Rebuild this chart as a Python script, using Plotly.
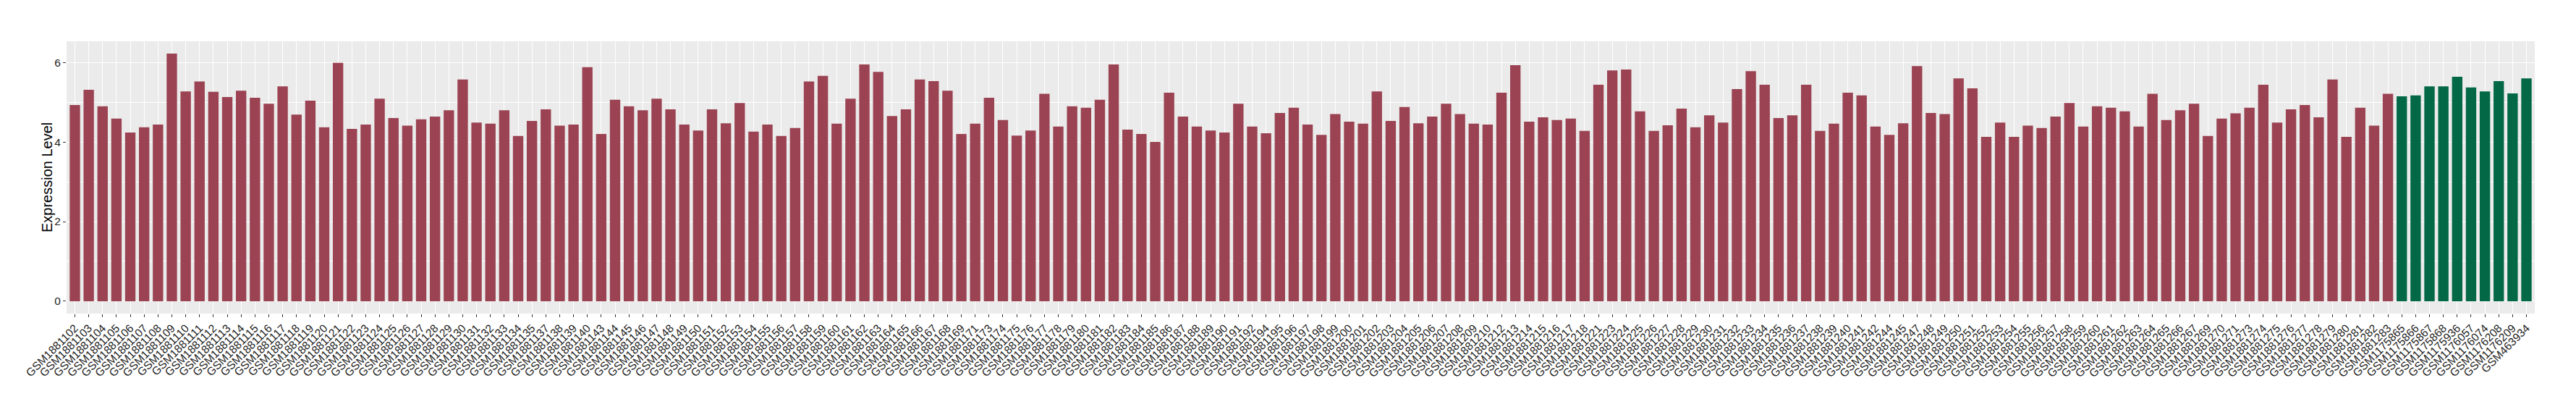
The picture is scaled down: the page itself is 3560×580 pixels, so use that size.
import plotly.graph_objects as go

# ---- data ----
tumor_samples = [
    "GSM1881102", "GSM1881103", "GSM1881104", "GSM1881105", "GSM1881106", "GSM1881107", "GSM1881108",
    "GSM1881109", "GSM1881110", "GSM1881111", "GSM1881112", "GSM1881113", "GSM1881114", "GSM1881115",
    "GSM1881116", "GSM1881117", "GSM1881118", "GSM1881119", "GSM1881120", "GSM1881121", "GSM1881122",
    "GSM1881123", "GSM1881124", "GSM1881125", "GSM1881126", "GSM1881127", "GSM1881128", "GSM1881129",
    "GSM1881130", "GSM1881131", "GSM1881132", "GSM1881133", "GSM1881134", "GSM1881135", "GSM1881137",
    "GSM1881138", "GSM1881139", "GSM1881140", "GSM1881143", "GSM1881144", "GSM1881145", "GSM1881146",
    "GSM1881147", "GSM1881148", "GSM1881149", "GSM1881150", "GSM1881151", "GSM1881152", "GSM1881153",
    "GSM1881154", "GSM1881155", "GSM1881156", "GSM1881157", "GSM1881158", "GSM1881159", "GSM1881160",
    "GSM1881161", "GSM1881162", "GSM1881163", "GSM1881164", "GSM1881165", "GSM1881166", "GSM1881167",
    "GSM1881168", "GSM1881169", "GSM1881171", "GSM1881173", "GSM1881174", "GSM1881175", "GSM1881176",
    "GSM1881177", "GSM1881178", "GSM1881179", "GSM1881180", "GSM1881181", "GSM1881182", "GSM1881183",
    "GSM1881184", "GSM1881185", "GSM1881186", "GSM1881187", "GSM1881188", "GSM1881189", "GSM1881190",
    "GSM1881191", "GSM1881192", "GSM1881194", "GSM1881195", "GSM1881196", "GSM1881197", "GSM1881198",
    "GSM1881199", "GSM1881200", "GSM1881201", "GSM1881202", "GSM1881203", "GSM1881204", "GSM1881205",
    "GSM1881206", "GSM1881207", "GSM1881208", "GSM1881209", "GSM1881210", "GSM1881212", "GSM1881213",
    "GSM1881214", "GSM1881215", "GSM1881216", "GSM1881217", "GSM1881218", "GSM1881221", "GSM1881223",
    "GSM1881224", "GSM1881225", "GSM1881226", "GSM1881227", "GSM1881228", "GSM1881229", "GSM1881230",
    "GSM1881231", "GSM1881232", "GSM1881233", "GSM1881234", "GSM1881235", "GSM1881236", "GSM1881237",
    "GSM1881238", "GSM1881239", "GSM1881240", "GSM1881241", "GSM1881242", "GSM1881244", "GSM1881245",
    "GSM1881247", "GSM1881248", "GSM1881249", "GSM1881250", "GSM1881251", "GSM1881252", "GSM1881253",
    "GSM1881254", "GSM1881255", "GSM1881256", "GSM1881257", "GSM1881258", "GSM1881259", "GSM1881260",
    "GSM1881261", "GSM1881262", "GSM1881263", "GSM1881264", "GSM1881265", "GSM1881266", "GSM1881267",
    "GSM1881269", "GSM1881270", "GSM1881271", "GSM1881273", "GSM1881274", "GSM1881275", "GSM1881276",
    "GSM1881277", "GSM1881278", "GSM1881279", "GSM1881280", "GSM1881281", "GSM1881282", "GSM1881283",
]
tumor_values = [
    4.93, 5.31, 4.90, 4.59, 4.24, 4.37, 4.44,
    6.22, 5.27, 5.52, 5.26, 5.13, 5.29, 5.11,
    4.96, 5.40, 4.69, 5.04, 4.37, 5.99, 4.33,
    4.44, 5.09, 4.60, 4.41, 4.57, 4.64, 4.80,
    5.57, 4.49, 4.46, 4.80, 4.15, 4.53, 4.82,
    4.41, 4.44, 5.88, 4.20, 5.06, 4.90, 4.80,
    5.09, 4.82, 4.44, 4.29, 4.82, 4.47, 4.98,
    4.26, 4.44, 4.15, 4.35, 5.52, 5.66, 4.46,
    5.09, 5.95, 5.76, 4.65, 4.82, 5.57, 5.53,
    5.29, 4.20, 4.46, 5.11, 4.55, 4.16, 4.29,
    5.21, 4.39, 4.90, 4.86, 5.06, 5.95, 4.31,
    4.20, 4.00, 5.24, 4.64, 4.39, 4.29, 4.24,
    4.96, 4.39, 4.22, 4.73, 4.86, 4.44, 4.18,
    4.70, 4.51, 4.46, 5.27, 4.53, 4.88, 4.47,
    4.64, 4.96, 4.70, 4.46, 4.44, 5.24, 5.93,
    4.51, 4.62, 4.55, 4.59, 4.28, 5.44, 5.80,
    5.82, 4.77, 4.28, 4.42, 4.84, 4.37, 4.67,
    4.49, 5.33, 5.78, 5.44, 4.60, 4.67, 5.44,
    4.28, 4.46, 5.24, 5.17, 4.39, 4.18, 4.47,
    5.91, 4.73, 4.70, 5.60, 5.35, 4.13, 4.49,
    4.13, 4.41, 4.35, 4.64, 4.98, 4.39, 4.90,
    4.86, 4.77, 4.39, 5.21, 4.55, 4.80, 4.96,
    4.15, 4.59, 4.72, 4.86, 5.44, 4.49, 4.82,
    4.93, 4.62, 5.57, 4.13, 4.86, 4.41, 5.21,
]
normal_samples = [
    "GSM1175865", "GSM1175866", "GSM1175867", "GSM1175868", "GSM1175936",
    "GSM1176057", "GSM1176074", "GSM1176208", "GSM1176209", "GSM463934",
]
normal_values = [5.15, 5.17, 5.40, 5.40, 5.64, 5.37, 5.27, 5.53, 5.22, 5.60]

y_ticks = [0, 2, 4, 6]
y_title = "Expression Level"

assert len(tumor_samples) == len(tumor_values)
assert len(normal_samples) == len(normal_values)

# ---- styling ----
RED = "#9B4352"
GREEN = "#036846"
TEXT = "#1F1F1F"
FONT = "Liberation Sans, Arial, Helvetica, sans-serif"

all_samples = tumor_samples + normal_samples
n = len(all_samples)
ymax = max(tumor_values + normal_values)
pad = ymax * 0.05

# page body has an 8px default margin; size the figure so the page is 3560x580
W, H = 3544, 564
L, T = 84, 49
PW, PH = 3411, 376

fig = go.Figure()
fig.add_trace(go.Bar(x=tumor_samples, y=tumor_values, marker=dict(color=RED, line=dict(width=0)),
                     width=0.75, showlegend=False))
fig.add_trace(go.Bar(x=normal_samples, y=normal_values, marker=dict(color=GREEN, line=dict(width=0)),
                     width=0.75, showlegend=False))

fig.update_layout(
    width=W, height=H,
    margin=dict(l=L, r=W - L - PW, t=T, b=H - T - PH, pad=0, autoexpand=False),
    paper_bgcolor="white",
    plot_bgcolor="#EBEBEB",
    barmode="overlay",
    font=dict(family=FONT, color=TEXT),
    xaxis=dict(
        type="category",
        categoryorder="array", categoryarray=all_samples,
        range=[-0.6, n - 1 + 0.6],
        tickangle=-45,
        tickfont=dict(size=15.5, color=TEXT),
        ticks="outside", ticklen=4, tickwidth=1, tickcolor="#333333",
        showgrid=True, gridcolor="white", gridwidth=1.1,
        zeroline=False, showline=False, automargin=False,
        fixedrange=True,
    ),
    yaxis=dict(
        range=[-pad, ymax + pad],
        tickvals=y_ticks,
        tickfont=dict(size=15.5, color=TEXT),
        ticks="outside", ticklen=4, tickwidth=1, tickcolor="#333333",
        showgrid=True, gridcolor="white", gridwidth=1.1,
        minor=dict(dtick=1, tick0=0, showgrid=True, gridcolor="white", gridwidth=0.5, ticks=""),
        zeroline=False, showline=False, automargin=False,
        fixedrange=True,
    ),
    annotations=[dict(
        text=y_title, xref="paper", yref="paper", x=0, y=0.5,
        xshift=-27, xanchor="center", yanchor="middle", textangle=-90,
        showarrow=False, font=dict(size=20, color="black", family=FONT),
    )],
)

fig.write_html("out.html")
